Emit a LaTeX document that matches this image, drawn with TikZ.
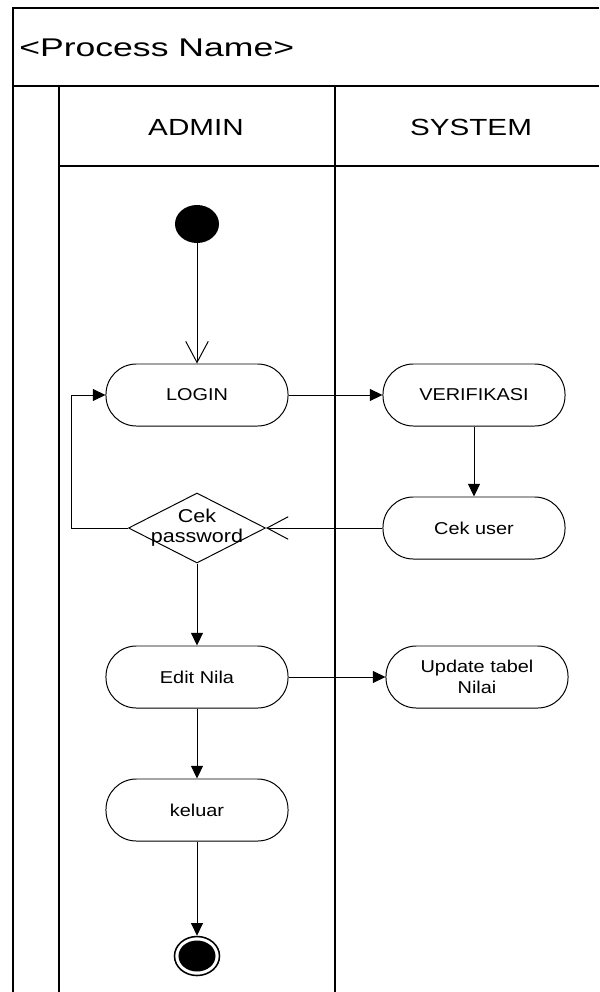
\documentclass[tikz,border=0pt]{standalone}
\usepackage{fontspec}
\setmainfont{Liberation Sans}[FakeStretch=1.16]
\newfontfamily\titlefont{Liberation Sans}[FakeStretch=1.39]
\newfontfamily\lanefont{Liberation Sans}[FakeStretch=1.27]
\usetikzlibrary{arrows.meta,shapes.geometric}
\tikzset{
  activity/.style={draw,line width=0.7pt,rounded corners=0.76cm,minimum width=4.55cm,
    minimum height=1.55cm,align=center,font=\fontsize{12.2}{15}\selectfont},
  flow/.style={line width=0.7pt,-{Triangle[length=9pt,width=8.5pt]}},
  openflow/.style={line width=0.7pt,-{Straight Barb[length=15pt,width=16pt]}},
  lane/.style={line width=1.1pt}
}
\begin{document}
\begin{tikzpicture}[x=0.025cm,y=-0.025cm]
\useasboundingbox (0,0) rectangle (599,992);
\draw[lane] (599,8) -- (13,8) -- (13,992);
\draw[lane] (13,86) -- (599,86);
\draw[lane] (59,86) -- (59,992);
\draw[lane] (335,86) -- (335,992);
\draw[lane] (59,166) -- (599,166);
\node[anchor=west,inner sep=0pt,font=\titlefont\fontsize{18.2}{22}\selectfont] (title) at (19,47.5) {<Process Name>};
\node[font=\lanefont\fontsize{16.6}{20}\selectfont] (admin) at (196,127) {ADMIN};
\node[font=\lanefont\fontsize{16.6}{20}\selectfont] (system) at (471,127) {SYSTEM};

\node[ellipse,fill=black,minimum width=1.1cm,minimum height=0.95cm,inner sep=0pt] (start) at (197,224) {};
\node[activity] (login) at (197,395) {LOGIN};
\node[activity] (verif) at (474,395) {VERIFIKASI};
\node[activity] (cekuser) at (474,528) {Cek user};
\node[diamond,draw,line width=0.7pt,minimum width=3.425cm,minimum height=1.75cm,inner sep=0pt,
  label={[align=center,font=\fontsize{13.2}{14.2}\selectfont]center:Cek\\password}] (cekpass) at (197,528) {};
\node[activity] (edit) at (197,677) {Edit Nila};
\node[activity] (update) at (477,677) {Update tabel\\Nilai};
\node[activity] (keluar) at (197,810) {keluar};
\node[ellipse,draw,line width=1.1pt,minimum width=1.125cm,minimum height=0.975cm,inner sep=0pt] (end) at (197,956) {};
\fill (end) ellipse (0.4625cm and 0.3875cm);

\draw[openflow] (start) -- (login);
\draw[flow] (login) -- (verif);
\draw[flow] (verif) -- (cekuser);
\draw[openflow] (cekuser) -- (cekpass.east);
\draw[flow] (cekpass.west) -- ++(-56,0) |- (login.west);
\draw[flow] (cekpass.south) -- (edit);
\draw[flow] (edit) -- (update);
\draw[flow] (edit) -- (keluar);
\draw[flow] (keluar) -- (end);
\end{tikzpicture}
\end{document}
